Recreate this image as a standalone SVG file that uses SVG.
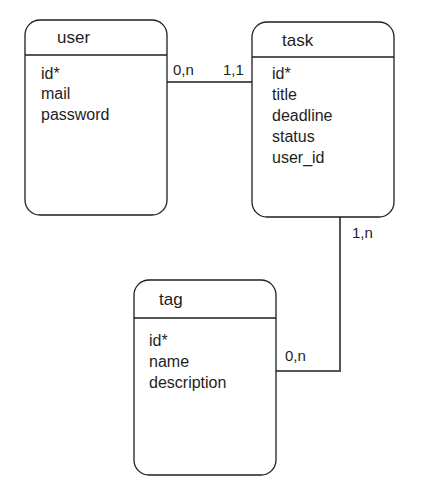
<svg xmlns="http://www.w3.org/2000/svg" width="443" height="482" viewBox="0 0 443 482">
<style>
.box{fill:#ffffff;stroke:#1e1e1e;stroke-width:1.3}
.div{stroke:#1e1e1e;stroke-width:1.6}
.conn{fill:none;stroke:#555555;stroke-width:2}
text{font-family:"Liberation Sans",Arial,sans-serif;fill:#1e1e1e}
.title{font-size:17px}
.attr{font-size:16px}
.lbl{font-size:15px}
</style>
<rect width="443" height="482" fill="#ffffff"/>
<g id="connectors">
<line class="conn" x1="167" y1="82" x2="252" y2="82"/>
<polyline class="conn" points="340,217 340,371 276,371"/>
<text class="lbl" x="173" y="75">0,n</text>
<text class="lbl" x="223" y="75">1,1</text>
<text class="lbl" x="352" y="238">1,n</text>
<text class="lbl" x="285" y="361">0,n</text>
</g>
<g id="user">
<rect class="box" x="25" y="20" width="142" height="195" rx="15"/>
<line class="div" x1="25" y1="55" x2="167" y2="55"/>
<text class="title" x="57" y="43">user</text>
<text class="attr" x="41" y="79">id*</text>
<text class="attr" x="41" y="99">mail</text>
<text class="attr" x="41" y="120">password</text>
</g>
<g id="task">
<rect class="box" x="252" y="22" width="142" height="195" rx="15"/>
<line class="div" x1="252" y1="57" x2="394" y2="57"/>
<text class="title" x="282" y="46">task</text>
<text class="attr" x="272" y="79">id*</text>
<text class="attr" x="272" y="100">title</text>
<text class="attr" x="272" y="121">deadline</text>
<text class="attr" x="272" y="142">status</text>
<text class="attr" x="272" y="163">user_id</text>
</g>
<g id="tag">
<rect class="box" x="134" y="280" width="142" height="195" rx="15"/>
<line class="div" x1="134" y1="318" x2="276" y2="318"/>
<text class="title" x="159" y="305">tag</text>
<text class="attr" x="149" y="346">id*</text>
<text class="attr" x="149" y="367">name</text>
<text class="attr" x="149" y="388">description</text>
</g>
</svg>
